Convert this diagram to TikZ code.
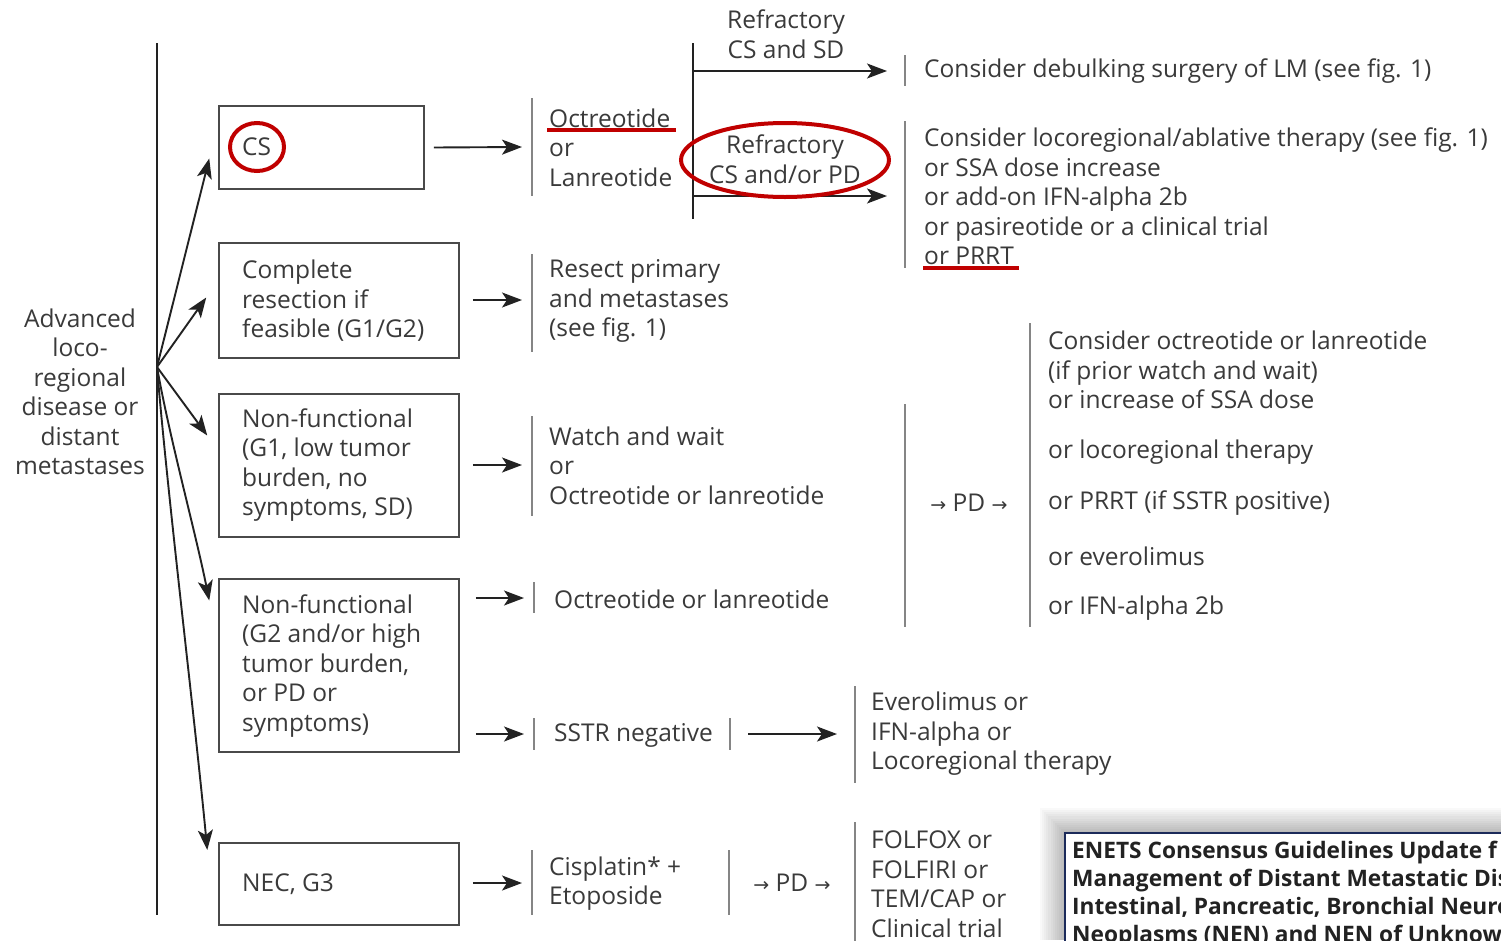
\documentclass[tikz,border=0pt]{standalone}
\usepackage{fontspec}
\setmainfont{Open Sans}
\newfontfamily\djv{DejaVu Sans}
\usetikzlibrary{arrows.meta,calc}
\definecolor{tc}{HTML}{3A3A3A}
\definecolor{bc}{HTML}{4A4A4A}
\definecolor{barc}{HTML}{858585}
\definecolor{ac}{HTML}{222222}
\definecolor{redc}{HTML}{C00000}
\definecolor{navy}{HTML}{1C2B5A}
\newcommand\fs{\fontsize{24.5}{29.5}\selectfont}
\newcommand\arrf{\djv\fontsize{19}{19}\selectfont}
\begin{document}
\begin{tikzpicture}[x=1pt,y=-1pt,
  txt/.style={anchor=west, inner sep=0pt, align=left, text=tc, font=\fs},
  ctxt/.style={inner sep=0pt, align=center, text=tc, font=\fs},
  cbox/.style={draw=bc, line width=1.5pt, fill=white, inner sep=0pt},
  bar/.style={draw=barc, line width=1.3pt},
  arr/.style={draw=ac, line width=1.9pt, -{Stealth[length=20pt,width=15pt,inset=5pt]}},
  redmark/.style={draw=redc, line width=4pt},
]
\useasboundingbox (0,0) rectangle (1501,940);
\clip (0,0) rectangle (1501,940);
\fill[white] (0,0) rectangle (1501,940);

% left column
\node[ctxt] (adv) at (80,392) {Advanced\\loco-\\regional\\disease or\\distant\\metastases};
\draw[draw=ac, line width=2pt] (157,43) -- (157,915);
\coordinate (org) at (157,367);

% boxes
\node[cbox, minimum width=205, minimum height=83] (csbox) at (321.5,147.5) {};
\node[cbox, minimum width=240, minimum height=115] (crbox) at (339,300.5) {};
\node[cbox, minimum width=240, minimum height=143] (nfa) at (339,465.5) {};
\node[cbox, minimum width=240, minimum height=173] (nfb) at (339,665.5) {};
\node[cbox, minimum width=240, minimum height=82] (nec) at (339,884) {};

\node[txt] (cstxt) at (242,147) {CS};
\node[txt] (crtxt) at (242,301) {Complete\\resection if\\feasible (G1/G2)};
\node[txt] (nfatxt) at (242,465) {Non-functional\\(G1, low tumor\\burden, no\\symptoms, SD)};
\node[txt] (nfbtxt) at (242,666) {Non-functional\\(G2 and/or high\\tumor burden,\\or PD or\\symptoms)};
\node[txt] (nectxt) at (242,884) {NEC, G3};
\draw[redmark] (257,147) ellipse [x radius=27, y radius=24];

% fan arrows
\draw[arr] (org) -- ($(csbox.west)+(-9,11)$);
\draw[arr] (org) -- ($(crbox.west)+(-12,-3)$);
\draw[arr] (org) -- ($(nfa.west)+(-11,-30)$);
\draw[arr] (org) .. controls (170,440) and (195,530) .. ($(nfb.west)+(-9,-65)$);
\draw[arr] (org) .. controls (168,500) and (195,720) .. ($(nec.west)+(-11,-34)$);

% second column bars
\coordinate (b1) at (532,147);
\coordinate (b2) at (532,300);
\coordinate (b3) at (532,465);
\coordinate (b4) at (534,598);
\coordinate (b5) at (534,734);
\coordinate (b6) at (532,883);
\coordinate (b8) at (730,734);
\draw[bar] (532,98) -- (532,196);
\draw[bar] (532,254) -- (532,352);
\draw[bar] (532,416) -- (532,516);
\draw[bar] (534,582) -- (534,613);
\draw[bar] (534,718) -- (534,750);
\draw[bar] (730,718) -- (730,750);
\draw[bar] (532,850) -- (532,915);

\draw[arr] ($(csbox.east)+(9,0)$) -- ($(b1)+(-10,0)$);
\draw[arr] ($(crbox.east |- b2)+(13,0)$) -- ($(b2)+(-10,0)$);
\draw[arr] ($(nfa.east |- b3)+(13,0)$) -- ($(b3)+(-10,0)$);
\draw[arr] ($(nfb.east |- b4)+(16,0)$) -- ($(b4)+(-10,0)$);
\draw[arr] ($(nfb.east |- b5)+(16,0)$) -- ($(b5)+(-10,0)$);
\draw[arr] ($(nec.east |- b6)+(13,0)$) -- ($(b6)+(-10,0)$);

\node[txt] (oct) at (549,147.5) {Octreotide\\or\\Lanreotide};
\draw[redmark] (547,130) -- (676,130);
\node[txt] (res) at (549,301) {Resect primary\\and metastases\\(see fig. 1)};
\node[txt] (watch) at (549,465.5) {Watch and wait\\or\\Octreotide or lanreotide};
\node[txt] (octl) at (554,599) {Octreotide or lanreotide};
\node[txt] (sstr) at (554,735) {SSTR negative};
\node[txt] (cis) at (549,883.5) {Cisplatin* +\\Etoposide};

% refractory branch
\coordinate (brtop) at (693,71);
\coordinate (brbot) at (693,196);
\coordinate (c1) at (905,71);
\coordinate (c2) at (905,196);
\draw[draw=ac, line width=1.5pt] (693,43) -- (693,219);
\draw[arr] (brtop) -- ($(c1)+(-18,0)$);
\draw[arr] (brbot) -- ($(c2)+(-18,0)$);
\node[ctxt] (rf1) at (786,34) {Refractory\\CS and SD};
\node[ctxt] (rf2) at (785,159) {Refractory\\CS and/or PD};
\draw[redmark] (785,160) ellipse [x radius=104, y radius=37];

\draw[bar] (905,55) -- (905,86);
\draw[bar] (905,121) -- (905,268);
\node[txt] (deb) at (924,71) {Consider debulking surgery of LM (see fig. 1)};
\node[txt] (loco) at (924,196.5) {Consider locoregional/ablative therapy (see fig. 1)\\or SSA dose increase\\or add-on IFN-alpha 2b\\or pasireotide or a clinical trial\\or PRRT};
\draw[redmark] (923,268) -- (1019,268);

% PD block
\draw[bar] (905,404) -- (905,627);
\node[ctxt] (pd1) at (969,503) {{\arrf →} PD {\arrf →}};
\draw[bar] (1030,323) -- (1030,627);
\node[txt] (cons) at (1048,370) {Consider octreotide or lanreotide\\(if prior watch and wait)\\or increase of SSA dose};
\node[txt] (o1) at (1048,452) {or locoregional therapy};
\node[txt] (o2) at (1048,503) {or PRRT (if SSTR positive)};
\node[txt] (o3) at (1048,556) {or everolimus};
\node[txt] (o4) at (1048,608) {or IFN-alpha 2b};

% SSTR negative
\coordinate (b7) at (855,734);
\draw[arr] ($(b8)+(18,0)$) -- ($(b7)+(-18,0)$);
\draw[bar] (855,686) -- (855,783);
\node[txt] (eve) at (871,734) {Everolimus or\\IFN-alpha or\\Locoregional therapy};

% NEC chain
\draw[bar] (729,850) -- (729,915);
\node[ctxt] (pd2) at (792,883) {{\arrf →} PD {\arrf →}};
\draw[bar] (855,822) -- (855,945);
\node[txt] (fol) at (871,884) {FOLFOX or\\FOLFIRI or\\TEM/CAP or\\Clinical trial};

% ENETS box
\foreach \i in {0,...,11} {
  \fill[black, opacity=0.025] ({1040+2.1*\i},{808+2.1*\i}) rectangle (1501,940);
}
\node[draw=navy, line width=1.5pt, fill=white, minimum width=445, minimum height=120, inner sep=0pt] (enets) at (1287.5,893) {};
\node[anchor=west, inner sep=0pt, align=left, text=ac, font=\bfseries\fontsize{22.7}{28}\selectfont] (enetstxt) at (1072,895) {ENETS Consensus Guidelines Update f\\Management of Distant Metastatic Dis\\Intestinal, Pancreatic, Bronchial Neuro\\Neoplasms (NEN) and NEN of Unknow};
\end{tikzpicture}
\end{document}
